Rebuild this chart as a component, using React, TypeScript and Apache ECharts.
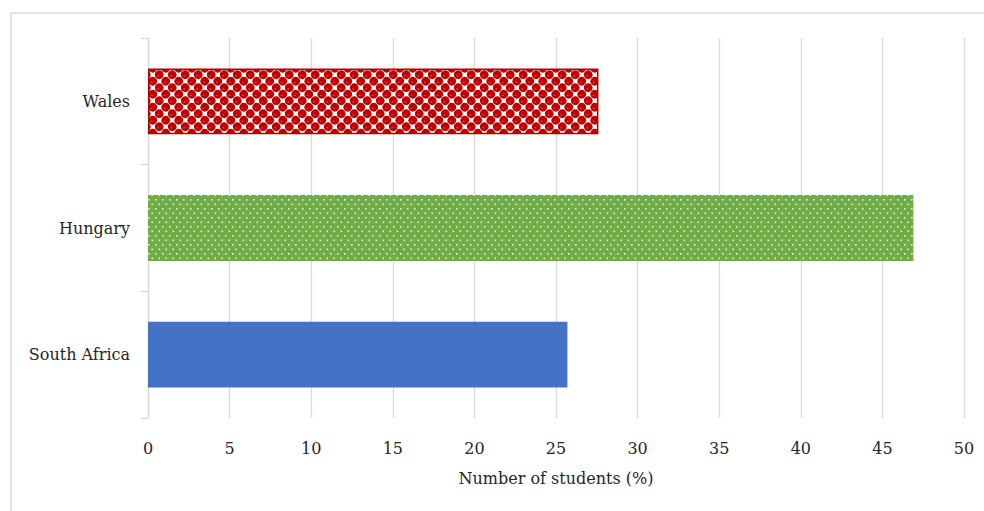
import React, { useEffect, useRef } from "react";
import * as echarts from "echarts";

const categories = ["South Africa", "Hungary", "Wales"];
const values = [25.7, 46.9, 27.6];
const xTicks = [0, 5, 10, 15, 20, 25, 30, 35, 40, 45, 50];
const axisName = "Number of students (%)";

function makeRedPattern(): HTMLCanvasElement {
  const c = document.createElement("canvas");
  const s = 13;
  const h = s / 2;
  const q = s / 4;
  c.width = s;
  c.height = s;
  const g = c.getContext("2d")!;
  g.fillStyle = "#ffffff";
  g.fillRect(0, 0, s, s);
  g.fillStyle = "#C00000";
  const centers: number[][] = [];
  for (const [cx, cy] of [[h + q, q], [q, h + q]]) {
    for (const dx of [-s, 0, s]) for (const dy of [-s, 0, s]) centers.push([cx + dx, cy + dy]);
  }
  for (const [x, y] of centers) {
    g.beginPath();
    g.arc(x, y, 4.4, 0, Math.PI * 2);
    g.fill();
  }
  g.fillStyle = "rgba(255,255,255,0.3)";
  for (const [x, y] of centers) {
    g.fillRect(x - 2, y + 0.5, 1.8, 1.2);
  }
  return c;
}

function makeGreenPattern(): HTMLCanvasElement {
  const c = document.createElement("canvas");
  const w = 7;
  const hh = 9;
  c.width = w;
  c.height = hh;
  const g = c.getContext("2d")!;
  g.fillStyle = "#70AD47";
  g.fillRect(0, 0, w, hh);
  g.fillStyle = "rgba(255,255,255,0.8)";
  g.fillRect(1, 1, 1.6, 1.6);
  g.fillRect(4.5, 5.5, 1.6, 1.6);
  return c;
}

export default function App() {
  const ref = useRef<HTMLDivElement>(null);
  useEffect(() => {
    document.body.style.margin = "0";
    if (!ref.current) return;
    const chart = echarts.init(ref.current, null, { renderer: "svg" });
    const red = makeRedPattern();
    const green = makeGreenPattern();
    const styles = [
      { color: "#4472C4" },
      {
        color: { image: green, repeat: "repeat", imageWidth: green.width, imageHeight: green.height },
      },
      {
        color: { image: red, repeat: "repeat", imageWidth: red.width, imageHeight: red.height },
        borderColor: "#B00000",
        borderWidth: 1.5,
      },
    ];
    const font = "'DejaVu Serif', 'Liberation Serif', serif";
    const fs = 16;
    chart.setOption({
      animation: false,
      graphic: [
        {
          type: "rect",
          shape: { x: 11, y: 13, width: 1200, height: 700 },
          style: { fill: "none", stroke: "#d9d9d9", lineWidth: 1.5 },
          silent: true,
        },
      ],
      grid: { left: 148, right: 20, top: 38, bottom: 93, containLabel: false },
      xAxis: {
        type: "value",
        min: xTicks[0],
        max: xTicks[xTicks.length - 1],
        interval: 5,
        axisLine: { show: false },
        axisTick: { show: false },
        splitLine: { show: true, lineStyle: { color: "#d9d9d9", width: 1.3 } },
        axisLabel: { color: "#262626", fontFamily: font, fontSize: fs, margin: 22 },
        name: axisName,
        nameLocation: "middle",
        nameGap: 52,
        nameTextStyle: { color: "#262626", fontFamily: font, fontSize: fs },
      },
      yAxis: {
        type: "category",
        data: categories,
        axisLine: { show: true, lineStyle: { color: "#d9d9d9", width: 1.3 } },
        axisTick: { show: true, length: 7, lineStyle: { color: "#d9d9d9", width: 1.3 } },
        axisLabel: { color: "#262626", fontFamily: font, fontSize: fs, margin: 18 },
        splitLine: { show: false },
      },
      series: [
        {
          type: "bar",
          data: values.map((v, i) => ({ value: v, itemStyle: styles[i] })),
          barCategoryGap: "48%",
        },
      ],
    });
    return () => chart.dispose();
  }, []);
  return <div ref={ref} style={{ width: 984, height: 511 }} />;
}
